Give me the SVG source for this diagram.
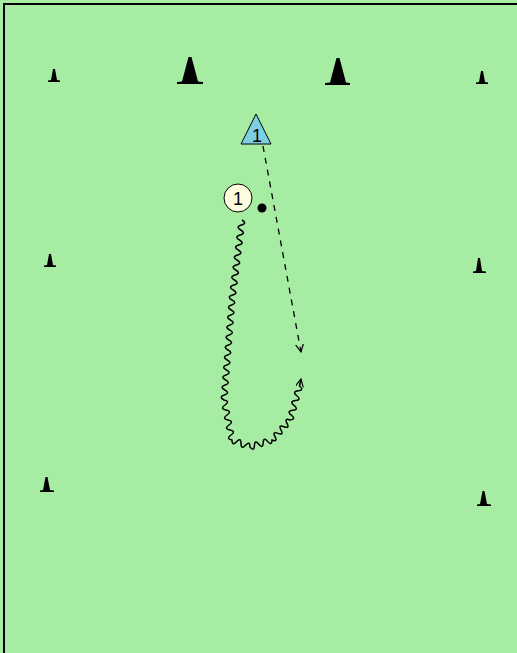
<svg xmlns="http://www.w3.org/2000/svg" width="517" height="653" viewBox="0 0 517 653">
<defs>
<style>
.cone{fill:#000}
.lbl{font-family:"Liberation Sans",Arial,sans-serif;font-size:18px;fill:#000;text-anchor:middle}
.run{fill:none;stroke:#000;stroke-width:1.5}
</style>
<marker id="arr" markerWidth="10" markerHeight="10" refX="8" refY="4" orient="auto" markerUnits="userSpaceOnUse">
<path d="M0,0 L8,4 L0,8" fill="none" stroke="#000" stroke-width="1.2"/>
</marker>
</defs>
<rect x="0" y="0" width="517" height="653" fill="#a6eca2"/>
<path d="M4,653 L4,4 L517,4" fill="none" stroke="#000" stroke-width="2"/>
<g id="cones" class="cone">
<g id="cone1"><path d="M48,82 L48,80.5 L51,80 L53,69 L55,69 L57,80 L60,80.5 L60,82 Z"/></g>
<g id="cone2"><path d="M177,84 L177,82 L182,81.5 L188.5,57 L191.5,57 L198,81.5 L203,82 L203,84 Z"/></g>
<g id="cone3"><path d="M325,85 L325,83 L330,82.5 L336.5,58 L339.5,58 L346,82.5 L350,83 L350,85 Z"/></g>
<g id="cone4"><path d="M476,84 L476,82.5 L479,82 L481,71 L483,71 L485,82 L488,82.5 L488,84 Z"/></g>
<g id="cone5"><path d="M44,267 L44,265.5 L47,265 L49,254 L51,254 L53,265 L56,265.5 L56,267 Z"/></g>
<g id="cone6"><path d="M473,273 L473,271.5 L476,271 L478,258 L480,258 L482,271 L486,271.5 L486,273 Z"/></g>
<g id="cone7"><path d="M40,492 L40,490.5 L43,490 L45.5,477 L47.5,477 L50,490 L54,490.5 L54,492 Z"/></g>
<g id="cone8"><path d="M477,506 L477,504.5 L480,504 L482.5,491 L484.5,491 L487,504 L491,504.5 L491,506 Z"/></g>
</g>
<g id="connectors">
<line x1="263" y1="146" x2="301" y2="352" stroke="#000" stroke-width="1.3" stroke-dasharray="6,6" marker-end="url(#arr)"/>
<path class="run" d="M242,220 q5.64,3.24 -0.625,5 t-0.625,5 t-0.625,5 t-0.625,5 t-0.625,5 t-0.625,5 t-0.625,5 t-0.625,5 t-0.625,5 t-0.625,5 t-0.625,5 t-0.625,5 t-0.625,5 t-0.625,5 t-0.625,5 t-0.625,5
q5.78,2.98 -0.4,5 t-0.4,5 t-0.4,5 t-0.4,5 t-0.4,5 t-0.4,5 t-0.4,5 t-0.4,5 t-0.4,5 t-0.4,5 t-0.4,5 t-0.4,5 t-0.4,5 t-0.4,5 t-0.4,5 t-0.4,5 t-0.4,5 t-0.4,5 t-0.4,5 t-0.4,5
q6.38,1.32 1,5 t1,5 t1,5 t1,5 t1,5 t1,5 t1,5 t1,5
q0.07,6.48 4.5,1.75 t4.5,1.75 t4.5,1.75 t4.5,1.75
q4.02,5.02 4.4,-1.4 t4.4,-1.4 t4.4,-1.4 t4.4,-1.4 t4.4,-1.4
q5.96,2.33 3,-3.33 t3,-3.33 t3,-3.33 t3,-3.33 t3,-3.33 t3,-3.33
q6.46,-0.81 1.36,-4.86 t1.36,-4.86 t1.36,-4.86 t1.36,-4.86 t1.36,-4.86 t1.36,-4.86 t1.36,-4.86 L301,379" marker-end="url(#arr)"/>
</g>
<g id="defender1">
<path d="M256,114 L241,144 L271,144 Z" fill="#7fcfe3" stroke="#000" stroke-width="1"/>
<text class="lbl" x="257" y="142">1</text>
</g>
<g id="attacker1">
<circle cx="238" cy="198" r="14" fill="#fffde0" stroke="#000" stroke-width="1"/>
<text class="lbl" x="238" y="205">1</text>
</g>
<g id="ball">
<circle cx="262" cy="208" r="4.5" fill="#000"/>
</g>
</svg>
